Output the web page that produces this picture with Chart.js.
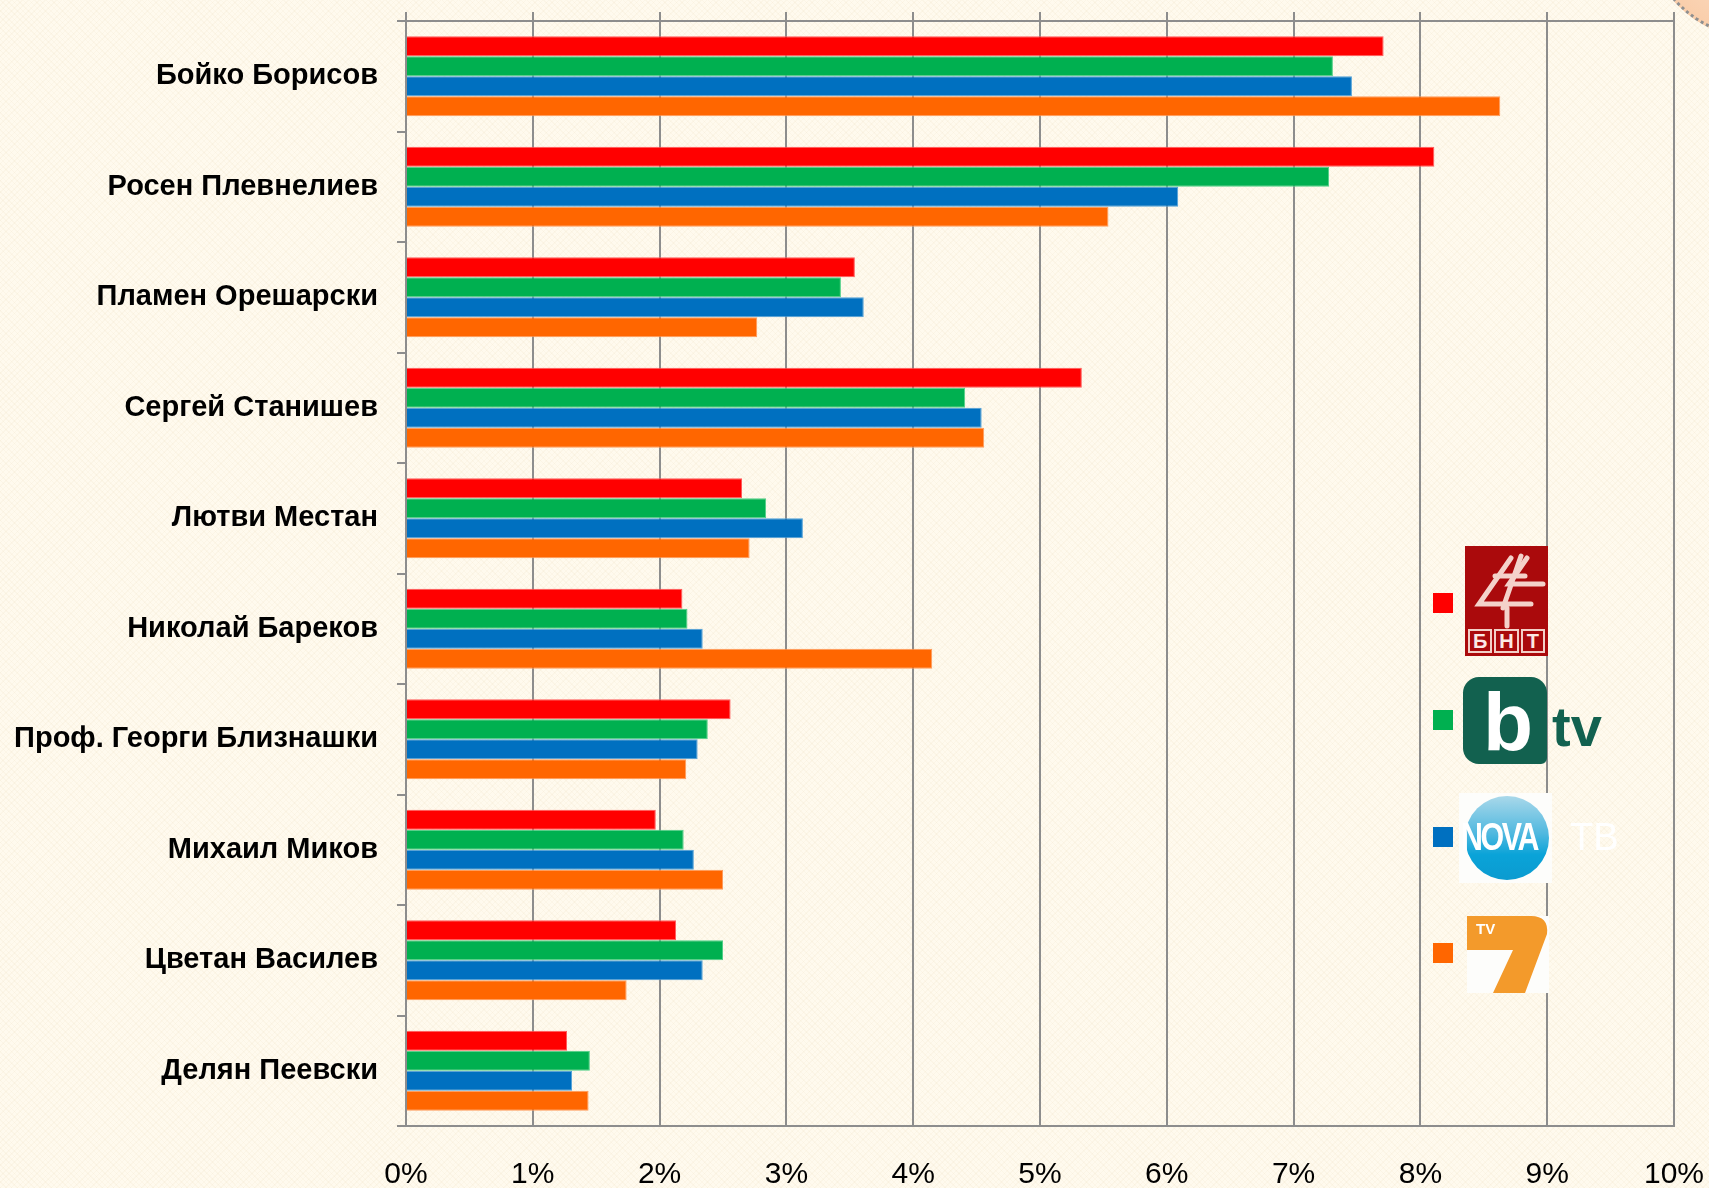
<!DOCTYPE html>
<html>
<head>
<meta charset="utf-8">
<script src="https://cdn.jsdelivr.net/npm/chart.js@4.4.1/dist/chart.umd.min.js"></script>
<style>
  html, body { margin: 0; padding: 0; }
  body {
    width: 1709px; height: 1188px; overflow: hidden; position: relative;
    background-color: #fffaee;
    background-image:
      repeating-linear-gradient(45deg, rgba(225, 205, 165, 0.10) 0 1px, transparent 1px 4px),
      repeating-linear-gradient(-45deg, rgba(225, 205, 165, 0.10) 0 1px, transparent 1px 4px);
    font-family: "Liberation Sans", Arial, sans-serif;
  }
  #chart { position: absolute; left: 0; top: 0; }
  .deco {
    position: absolute; left: 1647px; top: -178px; width: 216px; height: 216px;
    border-radius: 50%; border: 3px dotted #8f8f8f; box-sizing: border-box;
    background: radial-gradient(circle, #fde6d3 0%, #f9cba6 80%, #f6b98a 100%);
  }
  .key { position: absolute; left: 1433px; width: 20px; height: 20px; }
  .logo { position: absolute; }
  .bnt { left: 1465px; top: 546px; width: 83px; height: 110px; background: #aa0a0c; }
  .bnt svg { position: absolute; left: 0; top: 0; }
  .bnt-row { position: absolute; left: 3px; right: 3px; bottom: 3px; height: 24px; display: flex; gap: 2px; }
  .bnt-row span {
    flex: 1; border: 2px solid #f3d0c8; color: #fbe9e4; font: bold 20px/20px "Liberation Sans", Arial, sans-serif;
    text-align: center;
  }
  .btv { left: 1463px; top: 677px; width: 84px; height: 87px; background: #12614f; border-radius: 16px 16px 6px 16px; overflow: hidden; }
  .btv span { position: absolute; left: 20px; top: 4px; color: #fff; font: bold 82px/82px "Liberation Sans", Arial, sans-serif; }
  .btv-tv { left: 1552px; top: 699px; color: #12614f; font: bold 56px/56px "Liberation Sans", Arial, sans-serif; }
  .nova { left: 1459px; top: 793px; width: 93px; height: 90px; background: #fdfdfb; }
  .nova .ball {
    position: absolute; left: 6px; top: 3px; width: 84px; height: 84px; border-radius: 50%;
    background: linear-gradient(180deg, #a9d8ea 0%, #4fb8df 45%, #0aa3d8 70%, #0b9bd0 100%);
  }
  .nova .word {
    position: absolute; left: 2px; top: 25px; width: 120px; color: #fff;
    font: bold 38px/38px "Liberation Sans", Arial, sans-serif; letter-spacing: -3px;
    transform: scaleX(0.8); transform-origin: left top;
  }
  .nova-tb { left: 1570px; top: 818px; color: #ffffff; font: 38px/38px "Liberation Sans", Arial, sans-serif; }
  .tv7 { left: 1467px; top: 916px; width: 82px; height: 77px; background: #fdfdfb; }
  .tv7 svg { position: absolute; left: 0; top: 0; }
  .tv7 span { position: absolute; left: 9px; top: 5px; color: #fff; font: bold 15px/15px "Liberation Sans", Arial, sans-serif; }
</style>
</head>
<body>
<canvas id="chart" width="1709" height="1188"></canvas>
<div class="deco"></div>
<div id="legend"></div>

<div class="logo bnt">
  <svg width="83" height="84" viewBox="0 0 83 84">
    <g fill="none" stroke="#f4d2ca" stroke-width="5" stroke-linecap="round">
      <path d="M46 12 L14 58 L66 58"/>
      <path d="M56 10 L38 62"/>
      <path d="M62 12 L44 38 L78 38"/>
      <path d="M30 30 L60 30"/>
      <path d="M42 62 L42 80"/>
    </g>
  </svg>
  <div class="bnt-row"><span>Б</span><span>Н</span><span>Т</span></div>
</div>

<div class="logo btv"><span>b</span></div>
<div class="logo btv-tv">tv</div>

<div class="logo nova"><div class="ball"></div><div class="word">NOVA</div></div>
<div class="logo nova-tb">ТВ</div>

<div class="logo tv7">
  <svg width="82" height="77" viewBox="0 0 82 77">
    <path d="M0 0 H64 Q82 0 80 18 L58 77 H26 L46 34 H0 Z" fill="#f39a2b"/>
  </svg>
  <span>TV</span>
</div>

<script>
var categories = [
  'Бойко Борисов',
  'Росен Плевнелиев',
  'Пламен Орешарски',
  'Сергей Станишев',
  'Лютви Местан',
  'Николай Бареков',
  'Проф. Георги Близнашки',
  'Михаил Миков',
  'Цветан Василев',
  'Делян Пеевски'
];

// values in percent
var bntValues  = [7.71, 8.11, 3.54, 5.33, 2.65, 2.18, 2.56, 1.97, 2.13, 1.27];
var btvValues  = [7.31, 7.28, 3.43, 4.41, 2.84, 2.22, 2.38, 2.19, 2.50, 1.45];
var novaValues = [7.46, 6.09, 3.61, 4.54, 3.13, 2.34, 2.30, 2.27, 2.34, 1.31];
var tv7Values  = [8.63, 5.54, 2.77, 4.56, 2.71, 4.15, 2.21, 2.50, 1.74, 1.44];

var seriesNames  = ['БНТ', 'bTV', 'NOVA', 'TV7'];
var seriesColors = ['#ff0000', '#00b050', '#0070c0', '#ff6600'];
var seriesEdges  = ['#ff5a5a', '#4fcf86', '#4f9fd8', '#ff9a5a'];
var xTickMin = 0;
var xTickMax = 10;

var gridColor = '#8d8d8d';

var seriesValues = [bntValues, btvValues, novaValues, tv7Values];
var datasets = seriesValues.map(function (vals, i) {
  return {
    label: seriesNames[i],
    data: vals,
    backgroundColor: seriesColors[i],
    borderColor: seriesEdges[i],
    borderWidth: 1
  };
});

// legend keys (logos are placed above in the page)
var keyTops = [593, 710, 827, 943];
var legend = document.getElementById('legend');
seriesColors.forEach(function (c, i) {
  var d = document.createElement('div');
  d.className = 'key';
  d.title = seriesNames[i];
  d.style.top = keyTops[i] + 'px';
  d.style.background = c;
  legend.appendChild(d);
});

function noSidePadding(s) {
  s.paddingLeft = 0;
  s.paddingRight = 0;
  s.paddingTop = 0;
  s.paddingBottom = 0;
}

var chart = new Chart('chart', {
  type: 'bar',
  data: {
    labels: categories,
    datasets: datasets
  },
  options: {
    indexAxis: 'y',
    responsive: false,
    animation: false,
    layout: { padding: { right: 35 } },
    plugins: {
      legend: { display: false },
      tooltip: { enabled: false }
    },
    datasets: {
      bar: { categoryPercentage: 0.724, barPercentage: 1 }
    },
    scales: {
      x: {
        position: 'bottom',
        min: xTickMin,
        max: xTickMax,
        ticks: {
          stepSize: 1,
          maxRotation: 0,
          padding: 31,
          color: '#000',
          font: { family: 'Liberation Sans', size: 30 },
          callback: function (v) { return v + '%'; }
        },
        grid: { color: gridColor, lineWidth: 2, drawTicks: false },
        border: { color: gridColor, width: 2 },
        afterFit: function (s) { s.height = 62; noSidePadding(s); }
      },
      x2: {
        type: 'linear',
        axis: 'x',
        position: 'top',
        min: xTickMin,
        max: xTickMax,
        ticks: { display: false, stepSize: 1 },
        grid: { drawOnChartArea: false, color: gridColor, lineWidth: 2, tickLength: 9 },
        border: { color: gridColor, width: 2 },
        afterFit: function (s) { s.height = 21; noSidePadding(s); }
      },
      y: {
        ticks: {
          padding: 19,
          color: '#000',
          font: { family: 'Liberation Sans', size: 29, weight: 'bold' }
        },
        grid: { drawOnChartArea: false, offset: true, color: gridColor, lineWidth: 2, tickLength: 9 },
        border: { color: gridColor, width: 2 },
        afterFit: function (s) { s.width = 406; noSidePadding(s); }
      }
    }
  }
});
</script>
</body>
</html>
